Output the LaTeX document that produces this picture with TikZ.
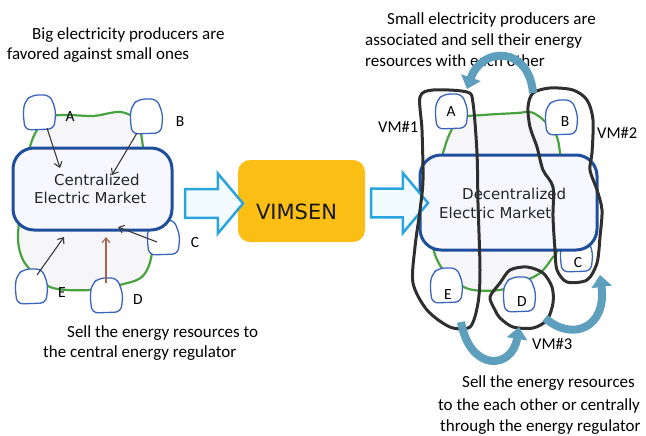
\documentclass[tikz,border=0pt]{standalone}
\usepackage{fontspec}
\setmainfont{Carlito}
\newfontfamily\dvfont{DejaVu Sans}
\usetikzlibrary{arrows.meta,shapes.arrows}
\definecolor{gline}{HTML}{48A23F}
\definecolor{mblue}{HTML}{1F4F9C}
\definecolor{pblue}{HTML}{3A64BE}
\definecolor{loopc}{HTML}{2F2F2F}
\definecolor{steel}{HTML}{5E9FBD}
\definecolor{cyanb}{HTML}{2AA4DD}
\definecolor{vimc}{HTML}{FBBE14}
\definecolor{blobfill}{HTML}{F6F6F8}
\definecolor{darr}{HTML}{3A3A3A}
\definecolor{brarr}{HTML}{A5654E}
\begin{document}
\begin{tikzpicture}[x=1pt,y=-1pt,
  note/.style={font=\fontsize{17}{20}\selectfont, inner sep=0pt, anchor=base west, text=black},
  vmlabel/.style={font=\fontsize{16.5}{19}\selectfont, inner sep=0pt, anchor=base west, text=black},
  letter/.style={font=\fontsize{15.5}{18}\selectfont, inner sep=0pt, text=black},
  greenblob/.style={draw=gline, line width=2.2pt, fill=blobfill},
  market/.style={draw=mblue, line width=3pt, fill=white!97!blue, rounded corners=21pt, inner sep=0pt},
  mtext/.style={font=\dvfont\fontsize{15}{18.5}\selectfont, align=left, inner sep=0pt, text=black!85},
  prodline/.style={draw=pblue, line width=1.3pt, fill=white, rounded corners=6pt},
  producer/.pic={\draw[prodline] (9,0) -- (27,0) -- (33,16) -- (31,34) -- (2,35) -- (0,17) -- (2,6) -- cycle;},
  parrow/.style={draw=darr, line width=1.1pt, -{Straight Barb[length=5pt,width=8pt]}},
  blockarrow/.style={single arrow, draw=cyanb, line width=2.5pt, fill=white!95!cyan, minimum height=58pt, minimum width=60pt, single arrow head extend=15.5pt, single arrow tip angle=100, inner xsep=0pt, inner ysep=13pt},
  vimbox/.style={fill=vimc, rounded corners=12pt, minimum width=127pt, minimum height=82pt},
  vmloop/.style={draw=loopc, line width=3pt, line join=round},
  varrow/.style={draw=steel, line width=8pt, -{Triangle[width=20pt,length=12pt]}}
]
\useasboundingbox (0,0) rectangle (646,436);

% ---------- texts ----------
\node[note] (t1) at (32,40) {Big electricity producers are};
\node[note] (t2) at (7,60) {favored against small ones};
\node[note] (t3) at (387,25) {Small electricity producers are};
\node[note] (t4) at (365,46) {associated and sell their energy};
\node[note] (t5) at (365,67) {resources with each other};
\node[note] (t6) at (67,337) {Sell the energy resources to};
\node[note] (t7) at (43,357) {the central energy regulator};
\node[note] (t8) at (462,387) {Sell the energy resources};
\node[note] (t9) at (438,410) {to the each other or centrally};
\node[note] (t10) at (440,431) {through the energy regulator};

% ---------- left side ----------
\draw[greenblob] plot[smooth cycle, tension=0.55] coordinates {(48,117) (67,115) (93,116) (110,113) (121,112) (133,117) (140,130) (143,147) (148,190) (153,230) (152,253) (147,270) (137,280) (110,287) (90,290) (67,290) (50,287) (37,277) (23,260) (18,240) (20,215) (25,180) (30,147) (37,130)};
\pic (pA) at (23,95) {producer};
\pic (pB) at (130,99) {producer};
\pic (pE) at (15,269) {producer};
\pic (pD) at (90,278) {producer};
\pic (pC) at (147,220) {producer};
\node[market, minimum width=159pt, minimum height=82pt] (cm) at (92.5,189) {};
\node[mtext, anchor=west] (cmt) at (34,189) {\hspace*{20pt}Centralized\\Electric Market};

\coordinate (aA) at (47,128);  \coordinate (tA) at (60,168);
\coordinate (aB) at (137,133); \coordinate (tB) at (112,175);
\coordinate (aC) at (157,242); \coordinate (tC) at (118,227);
\coordinate (aE) at (37,275);  \coordinate (tE) at (64,237);
\coordinate (aD) at (106,283); \coordinate (tD) at (106,237);
\draw[parrow] (aA) -- (tA);
\draw[parrow] (aB) -- (tB);
\draw[parrow] (aC) -- (tC);
\draw[parrow] (aE) -- (tE);
\draw[parrow, draw=brarr] (aD) -- (tD);

\node[letter] (lA) at (70,117) {A};
\node[letter] (lB) at (180,122) {B};
\node[letter] (lC) at (195,243) {C};
\node[letter] (lE) at (62,293) {E};
\node[letter] (lD) at (138,300) {D};

% ---------- middle ----------
\node[vimbox] (vim) at (301.5,201) {};
\node[font=\dvfont\fontsize{21}{24}\selectfont, text=black!90, inner sep=0pt] (vimt) at (296.5,212) {VIMSEN};
\node[blockarrow] (ar1) at (208,203.5) {};

% ---------- right side ----------
\draw[greenblob] plot[smooth cycle, tension=0.55] coordinates {(460,118) (483,115) (517,113) (530,112) (540,117) (550,127) (557,137) (560,153) (565,200) (557,250) (553,257) (540,273) (520,283) (500,290) (473,290) (457,283) (443,270) (433,247) (430,200) (443,153) (450,133)};
\pic (qA) at (435,94) {producer};
\pic (qB) at (545,100) {producer};
\pic (qE) at (430,268) {producer};
\pic (qD) at (503,277) {producer};
\pic (qC) at (560,237) {producer};
\node[market, minimum width=177pt, minimum height=95pt] (dm) at (508.5,202.5) {};
\node[mtext, anchor=west] (dmt) at (439,203.5) {\hspace*{23pt}Decentralized\\Electric Market};
\node[blockarrow, minimum height=57pt] (ar2) at (393.5,203) {};

\node[letter] (mA) at (451,112) {A};
\node[letter] (mB) at (565,122) {B};
\node[letter] (mC) at (578,263) {C};
\node[letter] (mE) at (448,295) {E};
\node[letter] (mD) at (522,302) {D};

% VM loops
\draw[vmloop] plot[smooth cycle, tension=0.5] coordinates {(420,97) (433,90) (467,92) (473,103) (477,153) (478,203) (480,270) (478,303) (470,327) (450,327) (427,310) (413,283) (415,247) (420,210) (423,180) (422,130)};
\draw[vmloop] plot[smooth cycle, tension=0.5] coordinates {(528,107) (533,93) (550,88) (573,90) (587,100) (593,120) (592,153) (590,170) (597,190) (602,210) (600,237) (597,263) (587,280) (567,282) (557,270) (555,250) (553,217) (553,187) (543,170) (537,147) (530,127)};
\draw[vmloop] plot[smooth cycle, tension=0.5] coordinates {(500,283) (510,270) (527,267) (543,273) (552,287) (553,303) (547,320) (533,328) (513,327) (500,318) (495,310) (490,297)};

% curved exchange arrows
\coordinate (c1s) at (533,93); \coordinate (c1e) at (467,89);
\coordinate (c2s) at (461,322); \coordinate (c2e) at (519,327);
\coordinate (c3s) at (545,318); \coordinate (c3e) at (600,275);
\draw[varrow] (c1s) .. controls (529,46) and (482,46) .. (c1e);
\draw[varrow] (c2s) .. controls (470,372) and (512,370) .. (c2e);
\draw[varrow] (c3s) .. controls (572,342) and (607,328) .. (c3e);

\node[vmlabel] (vm1) at (378,132) {VM\#1};
\node[vmlabel] (vm2) at (597,139) {VM\#2};
\node[vmlabel] (vm3) at (532,349) {VM\#3};
\end{tikzpicture}
\end{document}
